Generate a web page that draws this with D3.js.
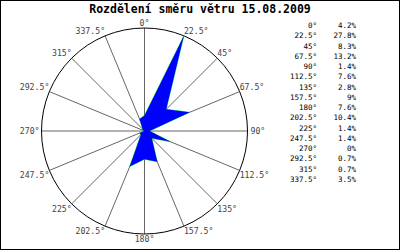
<!DOCTYPE html>
<html>
<head>
<meta charset="utf-8">
<script src="https://cdn.jsdelivr.net/npm/d3@7"></script>
<style>
  body { margin: 0; background: #fff; }
  svg { display: block; }
</style>
</head>
<body>
<div class="chart"></div>
<script>
const title = "Rozdělení směru větru 15.08.2009";
const directions = [0, 22.5, 45, 67.5, 90, 112.5, 135, 157.5, 180, 202.5, 225, 247.5, 270, 292.5, 315, 337.5];
const shares = [4.2, 27.8, 8.3, 13.2, 1.4, 7.6, 2.8, 9, 7.6, 10.4, 1.4, 1.4, 0, 0.7, 0.7, 3.5];

const width = 400, height = 250;
const cx = 144.5, cy = 131, radius = 103;
const mono = "'DejaVu Sans Mono', 'Liberation Mono', monospace";

const svg = d3.select(".chart").append("svg")
    .attr("width", width)
    .attr("height", height);

svg.append("rect")
    .attr("x", 0.5).attr("y", 0.5)
    .attr("width", width - 1).attr("height", height - 1)
    .attr("fill", "#fff").attr("stroke", "#000");

svg.append("text")
    .attr("x", width / 2).attr("y", 13)
    .attr("text-anchor", "middle")
    .style("font-family", mono)
    .style("font-size", "11.5px")
    .style("font-weight", "bold")
    .text(title);

const rScale = d3.scaleLinear().domain([0, d3.max(shares)]).range([0, radius]);
const toRad = d => d * Math.PI / 180;

const g = svg.append("g").attr("transform", `translate(${cx},${cy})`);

// spokes
g.selectAll("line.spoke")
    .data(directions)
    .enter()
    .append("line")
    .attr("class", "spoke")
    .attr("x1", 0).attr("y1", 0)
    .attr("x2", d => Math.sin(toRad(d)) * radius)
    .attr("y2", d => -Math.cos(toRad(d)) * radius)
    .attr("stroke", "#666")
    .attr("stroke-width", 1);

g.append("circle")
    .attr("r", radius)
    .attr("fill", "none")
    .attr("stroke", "#000")
    .attr("stroke-width", 1);

// rose polygon: thin green outline under a blue fill
const radial = d3.lineRadial()
    .angle((d, i) => toRad(directions[i]))
    .radius(d => rScale(d))
    .curve(d3.curveLinearClosed);

g.append("path")
    .attr("d", radial(shares))
    .attr("fill", "none")
    .attr("stroke", "#00ff00")
    .attr("stroke-width", 0.7);

g.append("path")
    .attr("d", radial(shares))
    .attr("fill", "#0000ff")
    .attr("stroke", "none");

// angle labels
g.selectAll("text.angle")
    .data(directions)
    .enter()
    .append("text")
    .attr("class", "angle")
    .attr("x", d => {
        const s = Math.sin(toRad(d));
        return s * radius + (Math.abs(s) > 0.99 ? (s > 0 ? 3 : -2) : 0);
    })
    .attr("y", d => {
        const c = Math.cos(toRad(d));
        const y = -c * radius;
        if (Math.abs(c) < 0.01) return y + 3;
        return c > 0 ? y - 2 : y + 8;
    })
    .attr("text-anchor", d => {
        const s = Math.sin(toRad(d));
        return Math.abs(s) < 0.01 ? "middle" : (s > 0 ? "start" : "end");
    })
    .style("font-family", mono)
    .style("font-size", "8.2px")
    .attr("fill", "#444")
    .text(d => d + "°");

// legend
const legend = svg.append("g").attr("class", "legend");
const rowY = d3.scalePoint().domain(d3.range(directions.length)).range([28, 182]);

legend.selectAll("text.dir")
    .data(directions)
    .enter()
    .append("text")
    .attr("x", 317)
    .attr("y", (d, i) => rowY(i))
    .attr("text-anchor", "end")
    .style("font-family", mono)
    .style("font-size", "7.5px")
    .text(d => d + "°");

legend.selectAll("text.pct")
    .data(shares)
    .enter()
    .append("text")
    .attr("x", 356)
    .attr("y", (d, i) => rowY(i))
    .attr("text-anchor", "end")
    .style("font-family", mono)
    .style("font-size", "7.5px")
    .text(d => d + "%");
</script>
</body>
</html>
